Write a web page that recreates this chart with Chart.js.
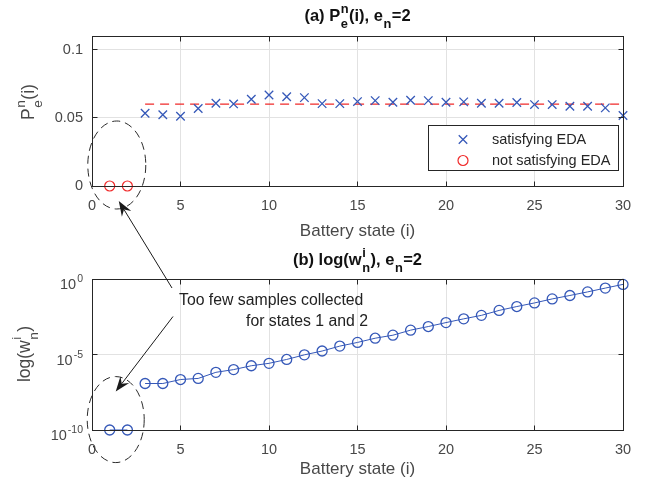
<!DOCTYPE html>
<html>
<head>
<meta charset="utf-8">
<title>Battery state statistics</title>
<script src="https://cdn.jsdelivr.net/npm/chart.js@4.4.1/dist/chart.umd.min.js"></script>
<style>
  html, body { margin: 0; padding: 0; background: #fff; }
  #wrap { position: relative; width: 647px; height: 488px; }
  #wrap canvas { position: absolute; left: 0; }
  #topChart { top: 0; }
  #bottomChart { top: 244px; }
  #notes { top: 0; pointer-events: none; }
</style>
</head>
<body>
<div id="wrap">
  <canvas id="topChart" width="647" height="244"></canvas>
  <canvas id="bottomChart" width="647" height="244"></canvas>
  <canvas id="notes" width="647" height="488"></canvas>
</div>
<script>
// states with too few samples vs. states that satisfy EDA
const lowStates = [1, 2];
const okStates = [3, 4, 5, 6, 7, 8, 9, 10, 11, 12, 13, 14, 15, 16, 17, 18, 19, 20,
                  21, 22, 23, 24, 25, 26, 27, 28, 29, 30];

// (a) P_e^n(i)
const probLow = [0, 0];
const probOk = [0.0534, 0.0522, 0.0512, 0.0568, 0.0607, 0.0602, 0.0636, 0.0667, 0.0655, 0.0648,
                0.0604, 0.0604, 0.0619, 0.0626, 0.0614, 0.0629, 0.0626, 0.0614, 0.0617, 0.0607,
                0.0607, 0.0612, 0.0597, 0.0597, 0.0585, 0.0585, 0.0573, 0.0517];
const edaLevel = 0.06;

// (b) w_n^i
const weightLow = [1e-10, 1e-10];
const weightOk = [1.2e-7, 1.2e-7, 2.2e-7, 2.6e-7, 6.6e-7, 1.0e-6, 1.8e-6, 2.6e-6, 4.7e-6, 9.5e-6,
                  1.7e-5, 3.6e-5, 6.3e-5, 1.2e-4, 1.9e-4, 4.1e-4, 7.1e-4, 1.3e-3, 2.3e-3, 3.9e-3,
                  8.3e-3, 1.5e-2, 2.6e-2, 4.8e-2, 8.1e-2, 0.14, 0.25, 0.44];

// axis ticks
const stateTicks = [0, 5, 10, 15, 20, 25, 30];
const probTicks = [0, 0.05, 0.1];
const weightTicks = [1e-10, 1e-5, 1];
const weightTickExp = ['-10', '-5', '0'];

const FONT = "'Liberation Sans', Arial, Helvetica, sans-serif";
const INK = '#262626';
const TICK_INK = '#484848';
const BLUE = '#3558b8';
const RED = '#f02a2a';

Chart.defaults.font.family = FONT;
Chart.defaults.color = TICK_INK;

function font(size, bold) {
    return (bold ? 'bold ' : '') + size + 'px ' + FONT;
}

// text with stacked super/subscripts: parts like {text} or {sup, sub}
function partsWidth(ctx, parts, size, bold) {
    let w = 0;
    parts.forEach(p => {
        if (p.text !== undefined) {
            ctx.font = font(size, bold);
            w += ctx.measureText(p.text).width;
        } else {
            ctx.font = font(size * 0.78, bold);
            w += Math.max(ctx.measureText(p.sup || '').width, ctx.measureText(p.sub || '').width) + 1;
        }
    });
    return w;
}

function drawParts(ctx, parts, x, y, size, bold) {
    let cx = x - partsWidth(ctx, parts, size, bold) / 2;
    ctx.textAlign = 'left';
    ctx.textBaseline = 'alphabetic';
    parts.forEach(p => {
        if (p.text !== undefined) {
            ctx.font = font(size, bold);
            ctx.fillText(p.text, cx, y);
            cx += ctx.measureText(p.text).width;
        } else {
            ctx.font = font(size * 0.78, bold);
            if (p.sup) ctx.fillText(p.sup, cx + 0.5, y - size * 0.5);
            if (p.sub) ctx.fillText(p.sub, cx + 0.5, y + size * 0.45);
            cx += Math.max(ctx.measureText(p.sup || '').width, ctx.measureText(p.sub || '').width) + 1;
        }
    });
}

// MATLAB-like box, inward ticks, bold title and rotated y label
function framePlugin(title, yTitle, yTitleX, yTitleY) {
    return {
        id: 'frame',
        afterDraw(chart) {
            const { ctx, chartArea: a, scales } = chart;
            const L = Math.floor(a.left) + 0.5, R = Math.floor(a.right) + 0.5;
            const T = Math.floor(a.top) + 0.5, B = Math.floor(a.bottom) + 0.5;
            ctx.save();
            ctx.strokeStyle = INK;
            ctx.lineWidth = 1;
            ctx.beginPath();
            scales.x.ticks.forEach(t => {
                const px = Math.floor(scales.x.getPixelForValue(t.value)) + 0.5;
                ctx.moveTo(px, B); ctx.lineTo(px, B - 5);
                ctx.moveTo(px, T); ctx.lineTo(px, T + 5);
            });
            scales.y.ticks.forEach(t => {
                const py = Math.floor(scales.y.getPixelForValue(t.value)) + 0.5;
                ctx.moveTo(L, py); ctx.lineTo(L + 5, py);
                ctx.moveTo(R, py); ctx.lineTo(R - 5, py);
            });
            ctx.stroke();
            ctx.strokeRect(L, T, R - L, B - T);

            ctx.fillStyle = '#111';
            drawParts(ctx, title, (a.left + a.right) / 2, 21, 16.5, true);

            ctx.fillStyle = TICK_INK;
            ctx.translate(yTitleX, yTitleY);
            ctx.rotate(-Math.PI / 2);
            drawParts(ctx, yTitle, 0, 0, 17.5, false);
            ctx.restore();
        }
    };
}

// boxed legend in the lower right of the plot area
const boxLegend = {
    id: 'boxLegend',
    afterDraw(chart) {
        const { ctx, chartArea: a } = chart;
        const items = chart.data.datasets.filter(ds => !ds.showLine);
        const w = 190, h = 45;
        const x0 = Math.floor(a.right) - 4.5 - w, y0 = Math.floor(a.bottom) - 15.5 - h;
        ctx.save();
        ctx.fillStyle = '#fff';
        ctx.fillRect(x0, y0, w, h);
        ctx.strokeStyle = INK;
        ctx.lineWidth = 1;
        ctx.strokeRect(x0, y0, w, h);
        items.forEach((ds, i) => {
            const y = y0 + 14 + i * 21;
            ctx.strokeStyle = ds.borderColor;
            ctx.fillStyle = 'rgba(0,0,0,0)';
            ctx.lineWidth = ds.pointBorderWidth;
            Chart.helpers.drawPoint(ctx, {
                pointStyle: ds.pointStyle, radius: ds.pointRadius,
                borderWidth: ds.pointBorderWidth, rotation: 0
            }, x0 + 34.5, y);
            ctx.fillStyle = '#262626';
            ctx.font = font(14.5, false);
            ctx.textAlign = 'left';
            ctx.textBaseline = 'middle';
            ctx.fillText(ds.label, x0 + 63.5, y);
        });
        ctx.restore();
    }
};

// 10^k labels for the log axis
const logLabels = {
    id: 'logLabels',
    afterDraw(chart) {
        const { ctx, chartArea: a, scales } = chart;
        const right = a.left - 9;
        ctx.save();
        ctx.fillStyle = TICK_INK;
        ctx.textAlign = 'right';
        ctx.textBaseline = 'alphabetic';
        weightTicks.forEach((v, i) => {
            const py = scales.y.getPixelForValue(v);
            ctx.font = font(10.5, false);
            const sw = ctx.measureText(weightTickExp[i]).width;
            ctx.fillText(weightTickExp[i], right, py + 3);
            ctx.font = font(14.5, false);
            ctx.fillText('10', right - sw - 1, py + 10);
        });
        ctx.restore();
    }
};

function stateAxis(titlePad) {
    return {
        type: 'linear',
        min: 0,
        max: 30,
        afterBuildTicks: s => { s.ticks = stateTicks.map(v => ({ value: v })); },
        afterFit: s => { s.height = 58; },
        grid: { color: '#e2e2e2', drawTicks: false },
        border: { display: false },
        ticks: { padding: 11, font: { size: 14.5 }, color: TICK_INK, callback: v => String(v) },
        title: {
            display: true, text: 'Battery state (i)', color: TICK_INK,
            font: { size: 17 }, padding: { top: 0, bottom: titlePad }
        }
    };
}

const common = {
    responsive: false,
    animation: false,
    devicePixelRatio: 1,
    events: [],
    plugins: { legend: { display: false }, tooltip: { enabled: false } }
};

const topChart = new Chart(document.getElementById('topChart'), {
    type: 'scatter',
    data: {
        datasets: [
            {
                label: 'satisfying EDA',
                data: okStates.map((s, i) => ({ x: s, y: probOk[i] })),
                pointStyle: 'crossRot',
                pointRadius: 6,
                pointBorderWidth: 1.3,
                borderColor: BLUE,
                backgroundColor: BLUE,
                clip: false
            },
            {
                label: 'not satisfying EDA',
                data: lowStates.map((s, i) => ({ x: s, y: probLow[i] })),
                pointStyle: 'circle',
                pointRadius: 5,
                pointBorderWidth: 1.2,
                borderColor: RED,
                backgroundColor: 'rgba(0,0,0,0)',
                clip: false
            },
            {
                label: 'EDA level',
                data: [{ x: okStates[0], y: edaLevel }, { x: okStates[okStates.length - 1], y: edaLevel }],
                showLine: true,
                borderColor: RED,
                borderWidth: 1.2,
                borderDash: [9, 6],
                pointRadius: 0
            }
        ]
    },
    options: {
        ...common,
        layout: { padding: { top: 36, right: 24, left: 0, bottom: 0 }, autoPadding: false },
        scales: {
            x: stateAxis(2),
            y: {
                type: 'linear',
                min: 0,
                max: 0.11,
                afterBuildTicks: s => { s.ticks = probTicks.map(v => ({ value: v })); },
                afterFit: s => { s.width = 92; },
                grid: { color: '#e2e2e2', drawTicks: false },
                border: { display: false },
                ticks: { padding: 9, font: { size: 14.5 }, color: TICK_INK, callback: v => String(v) }
            }
        }
    },
    plugins: [
        framePlugin(
            [{ text: '(a) P' }, { sup: 'n', sub: 'e' }, { text: '(i), e' }, { sub: 'n' }, { text: '=2' }],
            [{ text: 'P' }, { sup: 'n', sub: 'e' }, { text: '(i)' }],
            34, 102),
        boxLegend
    ]
});

const bottomChart = new Chart(document.getElementById('bottomChart'), {
    type: 'line',
    data: {
        datasets: [
            {
                label: 'w, satisfying EDA',
                data: okStates.map((s, i) => ({ x: s, y: weightOk[i] })),
                borderColor: BLUE,
                borderWidth: 1,
                pointStyle: 'circle',
                pointRadius: 5,
                pointBorderWidth: 1.3,
                pointBorderColor: BLUE,
                pointBackgroundColor: 'rgba(0,0,0,0)',
                backgroundColor: 'rgba(0,0,0,0)',
                clip: false
            },
            {
                label: 'w, not satisfying EDA',
                data: lowStates.map((s, i) => ({ x: s, y: weightLow[i] })),
                borderColor: BLUE,
                borderWidth: 1,
                pointStyle: 'circle',
                pointRadius: 5,
                pointBorderWidth: 1.3,
                pointBorderColor: BLUE,
                pointBackgroundColor: 'rgba(0,0,0,0)',
                backgroundColor: 'rgba(0,0,0,0)',
                clip: false
            }
        ]
    },
    options: {
        ...common,
        layout: { padding: { top: 35, right: 24, left: 0, bottom: 0 }, autoPadding: false },
        scales: {
            x: stateAxis(8),
            y: {
                type: 'logarithmic',
                min: 1e-10,
                max: 1,
                afterBuildTicks: s => { s.ticks = weightTicks.map(v => ({ value: v })); },
                afterFit: s => { s.width = 92; },
                grid: { color: '#e2e2e2', drawTicks: false },
                border: { display: false },
                ticks: { display: false }
            }
        }
    },
    plugins: [
        framePlugin(
            [{ text: '(b) log(w' }, { sup: 'i', sub: 'n' }, { text: '), e' }, { sub: 'n' }, { text: '=2' }],
            [{ text: 'log(w' }, { sup: 'i', sub: 'n' }, { text: ')' }],
            30, 110),
        logLabels
    ]
});

function arrow(ctx, x0, y0, x1, y1) {
    const ang = Math.atan2(y1 - y0, x1 - x0);
    const len = 15, half = 5.5, notch = 10;
    ctx.beginPath();
    ctx.moveTo(x0, y0);
    ctx.lineTo(x1 - Math.cos(ang) * notch, y1 - Math.sin(ang) * notch);
    ctx.stroke();
    ctx.save();
    ctx.translate(x1, y1);
    ctx.rotate(ang);
    ctx.beginPath();
    ctx.moveTo(0, 0);
    ctx.lineTo(-len, -half);
    ctx.lineTo(-notch, 0);
    ctx.lineTo(-len, half);
    ctx.closePath();
    ctx.fill();
    ctx.restore();
}

// dashed rings round states 1 and 2 with the explanatory note
function drawNotes() {
    const ctx = document.getElementById('notes').getContext('2d');
    const off = 244;
    const ringTop = {
        x: topChart.scales.x.getPixelForValue(1.4),
        y: topChart.scales.y.getPixelForValue(0.0154), rx: 29, ry: 44
    };
    const ringBottom = {
        x: bottomChart.scales.x.getPixelForValue(1.34),
        y: off + bottomChart.scales.y.getPixelForValue(4.9e-10), rx: 28.5, ry: 43
    };
    ctx.save();
    ctx.strokeStyle = '#2a2a2a';
    ctx.lineWidth = 1;
    ctx.setLineDash([8, 5]);
    [ringTop, ringBottom].forEach(r => {
        ctx.beginPath();
        ctx.ellipse(r.x, r.y, r.rx, r.ry, 0, 0, Math.PI * 2);
        ctx.stroke();
    });
    ctx.setLineDash([]);

    ctx.strokeStyle = '#1a1a1a';
    ctx.fillStyle = '#1a1a1a';
    arrow(ctx, 172, 288, ringTop.x + 2, ringTop.y + 36);
    arrow(ctx, 173, 316.5, ringBottom.x, ringBottom.y - 28);

    ctx.fillStyle = '#222';
    ctx.font = font(15.8, false);
    ctx.textAlign = 'left';
    ctx.textBaseline = 'middle';
    ctx.fillText('Too few samples collected', 179, 301);
    ctx.fillText('for states 1 and 2', 246, 322);
    ctx.restore();
}

drawNotes();
</script>
</body>
</html>
